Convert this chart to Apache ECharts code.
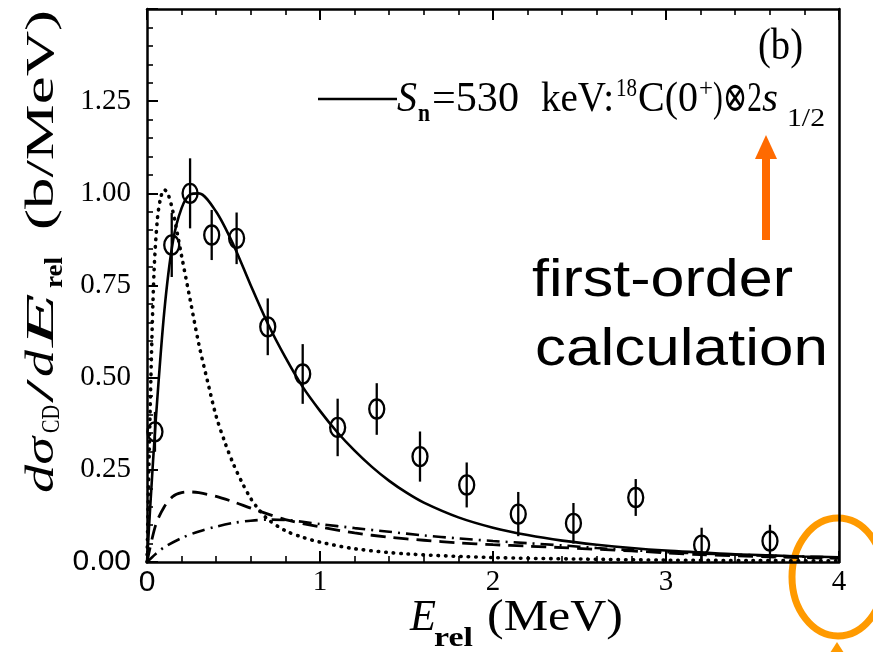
<!DOCTYPE html>
<html><head><meta charset="utf-8">
<script src="https://cdn.jsdelivr.net/npm/echarts@6/dist/echarts.min.js"></script>
<style>html,body{margin:0;padding:0;background:#fff}#c{width:873px;height:652px}</style>
</head><body><div id="c"></div>
<script>
// ---------- data ----------
const xTickLabels = ['0', '1', '2', '3', '4'];
const yTickLabels = ['0.00', '0.25', '0.50', '0.75', '1.00', '1.25', ''];

// measured points (circles with error bars)
const pointE   = [0.046, 0.143, 0.249, 0.374, 0.518, 0.698, 0.900, 1.102, 1.328, 1.578, 1.848, 2.146, 2.465, 2.825, 3.206, 3.601];
const pointVal = [0.353, 0.860, 1.000, 0.887, 0.878, 0.638, 0.510, 0.365, 0.415, 0.286, 0.209, 0.130, 0.105, 0.175, 0.046, 0.057];
const pointErr = [0.054, 0.087, 0.095, 0.068, 0.070, 0.077, 0.081, 0.078, 0.070, 0.068, 0.061, 0.060, 0.055, 0.050, 0.047, 0.044];

// solid: total first-order calculation
const totalE = [0, 0.02, 0.05, 0.1, 0.15, 0.2, 0.25, 0.3, 0.4, 0.5, 0.6, 0.7, 0.8, 0.9, 1.0, 1.1, 1.2, 1.3, 1.4, 1.5, 1.6, 1.8, 2.0, 2.2, 2.4, 2.6, 2.8, 3.0, 3.2, 3.4, 3.6, 3.8, 4.0];
const totalY = [0, 0.16, 0.38, 0.68, 0.87, 0.96, 0.997, 1.0, 0.95, 0.86, 0.75, 0.645, 0.555, 0.475, 0.41, 0.352, 0.302, 0.258, 0.220, 0.188, 0.161, 0.121, 0.093, 0.073, 0.058, 0.047, 0.038, 0.031, 0.026, 0.021, 0.018, 0.015, 0.013];

// dotted component
const dottedE = [0, 0.02, 0.04, 0.06, 0.08, 0.1, 0.12, 0.15, 0.2, 0.25, 0.3, 0.35, 0.4, 0.45, 0.5, 0.55, 0.6, 0.65, 0.7, 0.8, 0.9, 1.0, 1.2, 1.5, 2.0, 2.5, 3.0, 3.5, 4.0];
const dottedY = [0, 0.45, 0.78, 0.93, 0.99, 1.01, 1.0, 0.95, 0.83, 0.71, 0.59, 0.49, 0.395, 0.325, 0.265, 0.215, 0.172, 0.14, 0.115, 0.085, 0.067, 0.054, 0.036, 0.022, 0.012, 0.008, 0.005, 0.004, 0.003];

// dashed component
const dashedE = [0, 0.05, 0.1, 0.15, 0.2, 0.25, 0.3, 0.4, 0.5, 0.6, 0.7, 0.8, 1.0, 1.2, 1.4, 1.6, 1.8, 2.0, 2.2, 2.4, 2.8, 3.2, 3.6, 4.0];
const dashedY = [0, 0.10, 0.15, 0.178, 0.188, 0.19, 0.188, 0.178, 0.163, 0.146, 0.13, 0.115, 0.095, 0.079, 0.067, 0.059, 0.052, 0.047, 0.043, 0.039, 0.030, 0.020, 0.014, 0.010];

// dash-dot component
const dashDotE = [0, 0.05, 0.1, 0.2, 0.3, 0.4, 0.5, 0.6, 0.7, 0.8, 0.9, 1.0, 1.2, 1.4, 1.6, 1.8, 2.0, 2.2, 2.4, 2.6, 2.8, 3.0, 3.2, 3.6, 4.0];
const dashDotY = [0, 0.022, 0.04, 0.065, 0.083, 0.096, 0.106, 0.112, 0.115, 0.114, 0.109, 0.103, 0.092, 0.082, 0.072, 0.064, 0.057, 0.051, 0.045, 0.038, 0.032, 0.027, 0.023, 0.017, 0.012];

// ---------- helpers ----------
const zip = (a, b) => a.map((v, i) => [v, b[i]]);
const SERIF = '"Liberation Serif", "DejaVu Serif", serif';
const SANS = '"Liberation Sans", Arial, sans-serif';
const mctx = document.createElement('canvas').getContext('2d');
// text placed by its left edge x0, right edge x1 and baseline
function fitText(text, style, fs, family, x0, x1, baseline, fill) {
  const font = style + ' ' + fs + 'px ' + family;
  mctx.font = font;
  const w = mctx.measureText(text).width || 1;
  const s = (x1 - x0) / w;
  return {
    type: 'text', x: x0, y: baseline - 0.31 * fs, scaleX: s, scaleY: 1,
    style: { text: text, font: font, fill: fill || '#000', align: 'left', verticalAlign: 'middle' },
    silent: true
  };
}

const chart = echarts.init(document.getElementById('c'), null, { renderer: 'canvas' });

const axisCommonX = {
  type: 'value', min: 0, max: 4, interval: 1,
  axisLine: { show: true, onZero: false, lineStyle: { color: '#000', width: 2.5 } },
  axisTick: { show: true, inside: true, length: 11, lineStyle: { color: '#000', width: 2 } },
  minorTick: { show: true, splitNumber: 5, length: 6, lineStyle: { color: '#000', width: 1.6 } },
  splitLine: { show: false }, minorSplitLine: { show: false }
};

const SMOOTH = 0.3;

const option = {
  animation: false,
  backgroundColor: '#fff',
  grid: { left: 147, right: 34, top: 9, bottom: 90, show: false },
  xAxis: [
    Object.assign({}, axisCommonX, {
      position: 'bottom',
      axisLabel: {
        show: true, margin: 6, color: '#000', fontFamily: SERIF, fontSize: 29,
        formatter: v => { const i = Math.round(v); return i === 0 ? '{s|' + xTickLabels[0] + '}' : xTickLabels[i]; },
        rich: { s: { fontFamily: SANS, fontSize: 30, color: '#000' } }
      }
    }),
    Object.assign({}, axisCommonX, { position: 'top', axisLabel: { show: false } })
  ],
  yAxis: [
    {
      type: 'value', min: 0, max: 1.5, interval: 0.25, position: 'left',
      axisLine: { show: true, onZero: false, lineStyle: { color: '#000', width: 2.5 } },
      axisTick: { show: true, inside: true, length: 11, lineStyle: { color: '#000', width: 2 } },
      minorTick: { show: true, splitNumber: 5, length: 6, lineStyle: { color: '#000', width: 1.6 } },
      splitLine: { show: false },
      axisLabel: {
        show: true, margin: 16, color: '#000', fontFamily: SERIF, fontSize: 29,
        formatter: v => { const i = Math.round(v / 0.25); return i === 0 ? '{s|' + yTickLabels[0] + '}' : yTickLabels[i]; },
        rich: { s: { fontFamily: SANS, fontSize: 30, color: '#000' } }
      }
    },
    {
      type: 'value', min: 0, max: 1.5, interval: 0.25, position: 'right',
      axisLine: { show: true, onZero: false, lineStyle: { color: '#000', width: 2.5 } },
      axisTick: { show: false }, axisLabel: { show: false }, splitLine: { show: false }
    }
  ],
  series: [
    {
      type: 'line', name: 'dotted', data: zip(dottedE, dottedY), symbol: 'none', smooth: SMOOTH,
      lineStyle: { color: '#000', width: 3.6, type: [0.5, 7], cap: 'round' }, z: 2
    },
    {
      type: 'line', name: 'dashed', data: zip(dashedE, dashedY), symbol: 'none', smooth: SMOOTH,
      lineStyle: { color: '#000', width: 2.8, type: [15, 8] }, z: 2
    },
    {
      type: 'line', name: 'dashdot', data: zip(dashDotE, dashDotY), symbol: 'none', smooth: SMOOTH,
      lineStyle: { color: '#000', width: 2.6, type: [13, 6, 2, 6] }, z: 2
    },
    {
      type: 'line', name: 'total', data: zip(totalE, totalY), symbol: 'none', smooth: SMOOTH,
      lineStyle: { color: '#000', width: 2.6 }, z: 3
    },
    {
      type: 'custom', name: 'data',
      data: pointE.map((e, i) => [e, pointVal[i], pointErr[i]]),
      renderItem: function (params, api) {
        const x = api.value(0), y = api.value(1), err = api.value(2);
        const c = api.coord([x, y]);
        const t = api.coord([x, y + err]);
        const b = api.coord([x, y - err]);
        return {
          type: 'group', children: [
            { type: 'line', shape: { x1: c[0], y1: t[1], x2: c[0], y2: b[1] }, style: { stroke: '#000', lineWidth: 2.3 } },
            { type: 'ellipse', shape: { cx: c[0], cy: c[1], rx: 7.5, ry: 9.5 }, style: { fill: 'none', stroke: '#000', lineWidth: 2.3 } }
          ]
        };
      },
      z: 4
    }
  ],
  graphic: [
    // legend line and text
    { type: 'line', shape: { x1: 318, y1: 99, x2: 397, y2: 99 }, style: { stroke: '#000', lineWidth: 2.6 }, silent: true },
    fitText('S', 'italic', 42, SERIF, 397, 417, 113),
    fitText('n', 'bold', 25, SERIF, 418, 430, 122),
    fitText('=530', '', 42, SERIF, 432, 519, 113),
    fitText('keV:', '', 42, SERIF, 541, 614, 113),
    fitText('18', '', 25, SERIF, 616, 637, 97),
    fitText('C(0', '', 42, SERIF, 638, 698, 113),
    fitText('+', '', 25, SERIF, 699, 713, 97),
    fitText(')\u22972', '', 42, SERIF, 713, 762, 113),
    fitText('s', 'italic', 42, SERIF, 762, 778, 113),
    fitText('1/2', '', 25, SERIF, 787, 825, 127),
    fitText('(b)', '', 44, SERIF, 758, 803, 61),
    // annotation
    fitText('first-order', '', 51, SANS, 532, 793, 298),
    fitText('calculation', '', 51, SANS, 535, 828, 367),
    { type: 'rect', shape: { x: 762, y: 155, width: 8, height: 85 }, style: { fill: '#FF6A00' }, silent: true },
    { type: 'polygon', shape: { points: [[766, 135], [755, 159], [777, 159]] }, style: { fill: '#FF6A00' }, silent: true },
    { type: 'ellipse', shape: { cx: 838, cy: 577, rx: 46, ry: 59 }, style: { fill: 'none', stroke: '#FF9A00', lineWidth: 7 }, silent: true },
    { type: 'polygon', shape: { points: [[837, 642], [828, 656], [846, 656]] }, style: { fill: '#FF9A00' }, silent: true },
    // x axis title
    fitText('E', 'italic', 44, SERIF, 410, 436, 632),
    fitText('rel', 'bold', 28, SERIF, 434, 473, 647),
    fitText('(MeV)', '', 44, SERIF, 487, 623, 632),
    // y axis title (rotated)
    {
      type: 'group', x: 55, y: 493, rotation: Math.PI / 2, silent: true,
      children: [
        fitText('d\u03c3', 'italic', 40, SERIF, 0, 56, 0),
        fitText('CD', '', 25, SERIF, 60, 88, 5),
        fitText('/', '', 40, SERIF, 90, 114, 0),
        fitText('d', 'italic', 40, SERIF, 116, 143, 0),
        fitText('E', 'italic', 40, SERIF, 146, 200, 0),
        fitText('rel', 'bold', 26, SERIF, 205, 236, 8),
        fitText('(b/MeV)', '', 40, SERIF, 263, 483, 0)
      ]
    }
  ]
};
chart.setOption(option);
</script>
</body></html>
